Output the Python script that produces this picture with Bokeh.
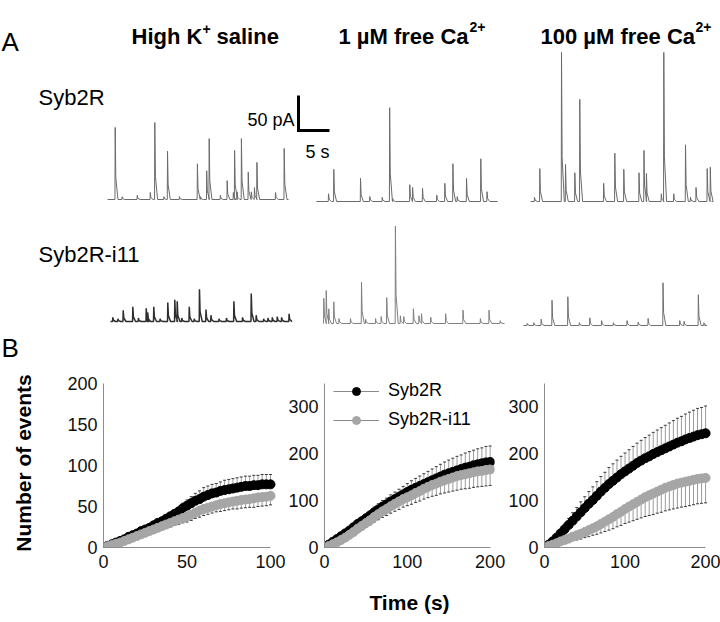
import numpy as np
from bokeh.plotting import figure
from bokeh.layouts import column, row
from bokeh.models import Range1d, FixedTicker, Legend, LegendItem
from bokeh.core.properties import value
from bokeh.embed import file_html
from bokeh.resources import INLINE

FONT = "Liberation Sans"

# ======================= DATA =======================
# ---- Panel A: titles / labels ----
title_main = ["High K", "1 \u00b5M free Ca", "100 \u00b5M free Ca"]
title_sup = ["+", "2+", "2+"]
title_tail = ["saline", "", ""]
row_labels = ["Syb2R", "Syb2R-i11"]
panel_letters = ["A", "B"]
scale_pA = 50
scale_s = 5
scale_labels = ["50 pA", "5 s"]
trace_len_s = 29.2

# ---- Panel A: events (time in s, amplitude in pA) ----
syb2r_highk_t = [1.24, 2.37, 4.8, 6.9, 7.63, 9.1, 9.68, 11.6, 14.5, 15.0, 16.0, 16.4,
                 18.2, 19.3, 20.3, 20.5, 20.9, 21.6, 22.7, 23.2, 23.7, 24.1, 27.1, 28.5]
syb2r_highk_pA = [103, 4, 6, 10, 110, 4, 69, 4, 51, 4, 41, 87,
                  6, 27, 10, 70, 11, 87, 39, 11, 17, 53, 10, 73]

syb2r_ca1_t = [1.94, 2.79, 7.1, 8.6, 10.6, 11.8, 12.3, 15.05, 15.5, 17.1, 19.4, 20.7,
               22.0, 22.7, 24.2, 26.5, 27.5]
syb2r_ca1_pA = [11, 46, 33, 7, 6, 134, 4, 24, 20, 19, 9, 26,
                54, 7, 33, 61, 14]

syb2r_ca100_t = [0.65, 1.5, 5.0, 5.65, 7.15, 7.95, 11.8, 13.6, 15.05, 17.5, 18.3, 18.7,
                 21.1, 21.5, 23.1, 25.0, 25.8, 26.7, 28.5, 29.0]
syb2r_ca100_pA = [6, 47, 213, 53, 41, 146, 26, 69, 46, 41, 73, 40,
                  11, 213, 11, 81, 6, 20, 47, 49]

i11_highk_t = [0.37, 1.2, 2.05, 3.6, 4.5, 5.76, 6.0, 6.98, 8.0, 9.24, 10.37, 10.76,
               11.5, 12.7, 13.5, 14.35, 15.4, 16.2, 17.5, 18.7, 19.9, 21.3, 22.7, 23.5,
               24.7, 25.4, 26.1, 26.9, 27.6, 28.8]
i11_highk_pA = [6, 4, 16, 21, 5, 19, 13, 21, 4, 27, 31, 29,
                5, 21, 4, 46, 17, 9, 4, 5, 29, 6, 40, 9,
                4, 5, 6, 7, 6, 11]

i11_ca1_t = [0.05, 0.44, 0.85, 1.66, 2.5, 4.35, 6.13, 6.8, 8.4, 9.3, 10.2, 11.6,
             12.4, 12.95, 14.5, 15.4, 15.8, 17.3, 19.7, 22.5, 25.3, 26.7, 28.5]
i11_ca1_pA = [36, 47, 21, 31, 7, 7, 59, 6, 7, 10, 37, 139,
              11, 10, 21, 11, 14, 9, 14, 19, 7, 19, 4]

i11_ca100_t = [0.6, 1.66, 2.85, 4.6, 7.15, 9.0, 10.7, 12.6, 14.5, 16.7, 18.5, 20.1,
               22.5, 25.2, 25.9, 28.2, 29.1]
i11_ca100_pA = [3, 4, 9, 36, 41, 4, 11, 7, 4, 7, 5, 10,
                61, 7, 6, 44, 4]

# ---- Panel B: cumulative number of events (mean and SEM) ----
series_names = ["Syb2R", "Syb2R-i11"]
y_title = "Number of events"
x_title = "Time (s)"

time_highk = np.arange(0, 100.01, 2.5)
time_ca = np.arange(0, 200.01, 5)

highk_syb2r = [0, 2, 4, 6, 8, 10, 13, 15, 17, 20, 22, 24, 27, 30, 32, 35, 38, 41, 44, 48,
               51, 54, 57, 59, 62, 64, 66, 67, 69, 70, 71, 72, 73, 74, 75, 75, 76, 76, 77, 77, 77]
highk_syb2r_sem = [0, 0, 1, 1, 1, 1, 2, 2, 2, 2, 2, 3, 3, 3, 3, 4, 4, 5, 5, 6,
                   7, 8, 9, 10, 11, 11, 11, 11, 11, 12, 12, 12, 12, 12, 12, 12, 12, 12, 12, 12, 12]
highk_i11 = [0, 1.5, 3, 4.5, 6, 8, 10, 12, 14, 16, 18, 20, 22, 24, 26, 28, 30, 32, 34, 36,
             38, 40, 42.5, 45, 47, 48.5, 50, 51.5, 53, 54, 55, 56, 57, 58, 58.5, 59, 60, 61, 61.5, 62, 63]
highk_i11_sem = [0, 0, 1, 1, 1, 1, 2, 2, 2, 3, 3, 3, 4, 4, 4, 4, 5, 5, 6, 6,
                 7, 7, 7, 8, 8, 8, 8, 8, 9, 9, 9, 9, 10, 10, 10, 10, 11, 11, 11, 11, 11]

ca1_syb2r = [0, 6, 12, 18, 24, 30, 36, 43, 50, 56, 62, 68, 75, 81, 87, 92, 98, 103, 108, 113,
             118, 123, 127, 131, 135, 139, 143, 147, 151, 155, 158, 161, 164, 167, 170, 172, 175, 177, 179, 181, 182]
ca1_syb2r_sem = [0, 1, 2, 3, 4, 5, 6, 7, 8, 8, 9, 10, 11, 12, 13, 13, 14, 15, 16, 17,
                 18, 19, 20, 21, 22, 23, 24, 25, 26, 27, 28, 29, 30, 30, 31, 32, 32, 33, 33, 34, 34]
ca1_i11 = [0, 3, 7, 11, 16, 21, 27, 33, 40, 46, 52, 58, 65, 71, 77, 82, 88, 93, 98, 103,
           107, 111, 116, 120, 125, 129, 133, 136, 140, 143, 146, 149, 152, 154, 156, 158, 160, 162, 163, 165, 166]
ca1_i11_sem = [0, 1, 2, 3, 4, 5, 6, 7, 8, 9, 9, 10, 11, 12, 13, 14, 15, 16, 17, 17,
               18, 19, 20, 21, 22, 23, 24, 25, 26, 27, 28, 29, 30, 30, 31, 32, 32, 33, 33, 34, 34]

ca100_syb2r = [0, 6, 13, 21, 30, 39, 48, 57, 66, 75, 84, 93, 101, 110, 119, 127, 135, 142, 149, 156,
               162, 168, 174, 180, 185, 190, 194, 199, 203, 207, 211, 215, 219, 223, 226, 230, 233, 236, 239, 241, 243]
ca100_syb2r_sem = [0, 2, 4, 6, 9, 11, 14, 17, 19, 22, 24, 26, 28, 30, 32, 33, 35, 36, 37, 38,
                   39, 40, 41, 42, 43, 44, 45, 46, 47, 48, 49, 50, 51, 52, 53, 54, 55, 56, 57, 57, 58]
ca100_i11 = [0, 3, 6, 9, 13, 16, 19, 23, 26, 29, 33, 37, 41, 45, 50, 55, 60, 65, 71, 76,
             82, 87, 92, 97, 102, 107, 111, 115, 119, 123, 127, 130, 133, 136, 138, 140, 142, 144, 146, 147, 148]
ca100_i11_sem = [0, 1, 2, 3, 4, 5, 7, 8, 10, 11, 12, 14, 15, 17, 19, 21, 23, 25, 27, 29,
                 31, 33, 35, 37, 39, 41, 43, 45, 46, 48, 49, 50, 51, 52, 52, 53, 53, 53, 53, 53, 53]

# ======================= LAYOUT CONSTANTS =======================
TOP_W, TOP_H = 720, 368
PX_PER_S = 6.2
PX_PER_PA = 0.7


def ax(px):
    return px / PX_PER_S


def ay(py):
    return (TOP_H - py) / PX_PER_PA


# ======================= PANEL A =======================
top = figure(width=TOP_W, height=TOP_H, x_range=Range1d(0, TOP_W / PX_PER_S),
             y_range=Range1d(0, TOP_H / PX_PER_PA), x_axis_type=None, y_axis_type=None,
             output_backend="svg", toolbar_location=None, min_border=0)
top.grid.visible = False
top.outline_line_color = None


def txt(p, x, y, s, size, bold=False, align="left", baseline="alphabetic", color="#000000"):
    p.text(x=[x], y=[y], text=[s], text_font=value(FONT), text_font_size=value(f"{size}px"),
           text_font_style="bold" if bold else "normal", text_align=align,
           text_baseline=baseline, text_color=color)


# panel letters
txt(top, ax(1), ay(41), panel_letters[0], 26)
txt(top, ax(1), ay(347), panel_letters[1], 26)

# column titles (main text, superscript, tail)
title_x = [131, 338, 540]
sup_x = [202, 469, 695]
tail_x = [216, None, None]
sup_base = [28, 26, 26]
for i in range(3):
    txt(top, ax(title_x[i]), ay(36), title_main[i], 22, bold=True)
    txt(top, ax(sup_x[i]), ay(sup_base[i]), title_sup[i], 14, bold=True)
    if title_tail[i]:
        txt(top, ax(tail_x[i]), ay(36), title_tail[i], 22, bold=True)

# row labels
txt(top, ax(38), ay(97), row_labels[0], 22)
txt(top, ax(38), ay(254), row_labels[1], 22)

# scale bar
sb_x, sb_y = ax(298), ay(130)
top.line(x=[sb_x, sb_x, sb_x + scale_s], y=[sb_y + scale_pA, sb_y, sb_y],
         line_color="#000000", line_width=3, line_join="miter")
txt(top, ax(294), ay(119), scale_labels[0], 18, align="right")
txt(top, ax(317), ay(151), scale_labels[1], 18, align="center")


def sweep_xy(ev_t, ev_a, x0, y0, dur):
    xs, ys = [x0], [y0]
    for t, a in sorted(zip(ev_t, ev_a)):
        xs += [x0 + t - 0.04, x0 + t, x0 + t + 0.1, x0 + t + 0.45]
        ys += [y0, y0 + a, y0 + 0.3 * a, y0]
    xs.append(x0 + dur)
    ys.append(y0)
    return xs, ys


sweeps = [
    (syb2r_highk_t, syb2r_highk_pA, 107, 199, "#6a6a6a", 1.0),
    (syb2r_ca1_t, syb2r_ca1_pA, 316, 201, "#6a6a6a", 1.0),
    (syb2r_ca100_t, syb2r_ca100_pA, 530, 201, "#6a6a6a", 1.0),
    (i11_highk_t, i11_highk_pA, 110, 321, "#2e2e2e", 1.5),
    (i11_ca1_t, i11_ca1_pA, 323, 323, "#808080", 1.0),
    (i11_ca100_t, i11_ca100_pA, 523, 325, "#707070", 1.0),
]
for ev_t, ev_a, px0, py0, col, lw in sweeps:
    xs, ys = sweep_xy(ev_t, ev_a, ax(px0), ay(py0), trace_len_s)
    top.line(x=xs, y=ys, line_color=col, line_width=lw)

# ======================= PANEL B =======================
B_H = 254
MB_TOP, MB_BOT = 10, 75
FRAME_H = B_H - MB_TOP - MB_BOT

BLACK = "#000000"
GREY = "#a6a6a6"
STEM = "#9b9b9b"
CAP = "#3a3a3a"
AXIS = "#8c8c8c"


def make_fig(width, mbl, mbr, x_ppu, y_ppu, xticks, yticks, xb, yb):
    frame_w = width - mbl - mbr
    p = figure(width=width, height=B_H,
               x_range=Range1d(0, frame_w / x_ppu), y_range=Range1d(0, FRAME_H / y_ppu),
               output_backend="svg", toolbar_location=None,
               min_border_left=mbl, min_border_right=mbr,
               min_border_top=MB_TOP, min_border_bottom=MB_BOT)
    p.grid.visible = False
    p.outline_line_color = None
    p.xaxis.ticker = FixedTicker(ticks=xticks)
    p.yaxis.ticker = FixedTicker(ticks=yticks)
    p.xaxis.bounds = xb
    p.yaxis.bounds = yb
    for a in p.axis:
        a.axis_line_color = AXIS
        a.axis_line_width = 1
        a.major_tick_line_color = None
        a.minor_tick_line_color = None
        a.major_tick_out = 0
        a.major_tick_in = 0
        a.major_label_text_font = FONT
        a.major_label_text_font_size = "18px"
        a.major_label_text_color = "#111111"
        a.axis_label_text_font = FONT
        a.axis_label_text_font_size = "21px"
        a.axis_label_text_font_style = "bold"
        a.axis_label_text_color = "#000000"
    p.xaxis.major_label_standoff = 7
    p.yaxis.major_label_standoff = 6
    return p, x_ppu


def draw(p, x_ppu, t, m_b, s_b, m_g, s_g):
    t = np.asarray(t, dtype=float)
    cap = 1.5 / x_ppu
    up = [m + s for m, s in zip(m_b, s_b)]
    dn = [m - s for m, s in zip(m_g, s_g)]
    p.segment(x0=t, y0=m_b, x1=t, y1=up, line_color=STEM, line_width=1)
    p.segment(x0=t - cap, y0=up, x1=t + cap, y1=up, line_color=CAP, line_width=1)
    p.segment(x0=t, y0=m_g, x1=t, y1=dn, line_color=STEM, line_width=1)
    p.segment(x0=t - cap, y0=dn, x1=t + cap, y1=dn, line_color=CAP, line_width=1)
    lb = p.line(x=t, y=m_b, line_color="#8a8a8a", line_width=1)
    sb = p.scatter(x=t, y=m_b, size=9, fill_color=BLACK, line_color=BLACK)
    lg = p.line(x=t, y=m_g, line_color="#8a8a8a", line_width=1)
    sg = p.scatter(x=t, y=m_g, size=9, fill_color=GREY, line_color=GREY)
    return (lb, sb), (lg, sg)


f1, k1 = make_fig(285, 103, 6, 1.67, 0.82, [0, 50, 100], [0, 50, 100, 150, 200], (0, 100), (0, 200))
f2, k2 = make_fig(220, 38, 11, 0.833, 0.47, [0, 100, 200], [0, 100, 200, 300], (0, 200), (0, 350))
f3, k3 = make_fig(215, 38, 0, 0.81, 0.47, [0, 100, 200], [0, 100, 200, 300], (0, 200), (0, 350))

draw(f1, k1, time_highk, highk_syb2r, highk_syb2r_sem, highk_i11, highk_i11_sem)
rb, rg = draw(f2, k2, time_ca, ca1_syb2r, ca1_syb2r_sem, ca1_i11, ca1_i11_sem)
draw(f3, k3, time_ca, ca100_syb2r, ca100_syb2r_sem, ca100_i11, ca100_i11_sem)

legend = Legend(items=[LegendItem(label=series_names[0], renderers=list(rb)),
                       LegendItem(label=series_names[1], renderers=list(rg))],
                location=(9, 117), orientation="vertical",
                border_line_color=None, background_fill_alpha=0,
                label_text_font=FONT, label_text_font_size="18px", label_text_color="#000000",
                glyph_width=46, glyph_height=20, label_height=20,
                label_standoff=9, spacing=8, padding=0, margin=0)
f2.add_layout(legend)

# axis titles
f1.yaxis.axis_label = y_title
f1.yaxis.axis_label_standoff = 29
f2.xaxis.axis_label = x_title
f2.xaxis.axis_label_standoff = 20

layout = column(top, row(f1, f2, f3))
open("out.html", "w").write(file_html(layout, INLINE))
